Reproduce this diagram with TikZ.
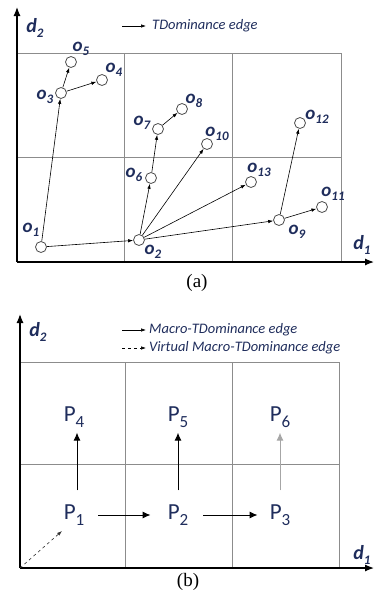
\documentclass[tikz,border=0pt]{standalone}
\usepackage{fontspec}
\setmainfont{Liberation Serif}
\newfontfamily\calib{Carlito}
\usepackage{tikz}
\usetikzlibrary{arrows.meta,positioning}
\definecolor{navy}{HTML}{1F2D5C}
\definecolor{gridgray}{HTML}{8C8C8C}
\newcommand{\objlbl}[1]{{\fontsize{19}{19}\selectfont\calib\bfseries\itshape o\raisebox{-0.5ex}{\fontsize{13}{13}\selectfont #1}}}
\newcommand{\ptlbl}[1]{{\fontsize{23}{23}\selectfont\calib P\raisebox{-0.55ex}{\fontsize{17}{17}\selectfont #1}}}
\newcommand{\dimlbl}[1]{{\fontsize{20}{20}\selectfont\calib\bfseries\itshape d\raisebox{-0.5ex}{\fontsize{13}{13}\selectfont #1}}}

\begin{document}
\begin{tikzpicture}[x=1pt, y=-1pt,
        obj/.style={circle, draw=black!70, fill=white, line width=0.8pt,
                    minimum size=11pt, inner sep=0pt},
        lbl/.style={text=navy, inner sep=0pt},
        legend/.style={text=navy, inner sep=0pt, anchor=west,
                       font=\calib\itshape\fontsize{14.5}{15}\selectfont},
        tdom/.style={-{Latex[length=5pt,width=3.5pt]}, line width=0.6pt},
        macro/.style={-{Latex[length=8pt,width=7pt]}, line width=1pt},
        cell/.style={draw=gridgray, line width=0.7pt},
        axis/.style={-{Latex[length=9pt,width=7pt]}, line width=1.2pt}
    ]
        \useasboundingbox (0,0) rectangle (374,592);

        % ---------- (a) objects ----------
        \draw[cell] (17,53) rectangle (341,262);
        \draw[cell] (124,53) -- (124,262) (232,53) -- (232,262) (17,157) -- (341,157);

        \coordinate (a0) at (17,262);
        \draw[axis] (a0) -- (17,7);
        \draw[axis] (a0) -- (374,262);
        \node[lbl] (ad2) at (35,28) {\dimlbl{2}};
        \node[lbl] (ad1) at (362,245) {\dimlbl{1}};

        % legend
        \coordinate (la1) at (122,26);
        \coordinate (la2) at (146,26);
        \draw[tdom] (la1) -- (la2);
        \node[legend] (lta) at (152,26) {TDominance edge};

        % points
        \node[obj] (o1) at (41,247) {};
        \node[obj] (o2) at (139,240) {};
        \node[obj] (o3) at (61,93) {};
        \node[obj] (o4) at (102,80) {};
        \node[obj] (o5) at (71,62) {};
        \node[obj] (o6) at (151,178) {};
        \node[obj] (o7) at (158,129) {};
        \node[obj] (o8) at (182,109) {};
        \node[obj] (o9) at (279,220) {};
        \node[obj] (o10) at (207,144) {};
        \node[obj] (o11) at (322,207) {};
        \node[obj] (o12) at (300,123) {};
        \node[obj] (o13) at (251,182) {};

        \node[lbl] (l1) at (31,230) {\objlbl{1}};
        \node[lbl] (l2) at (153,252) {\objlbl{2}};
        \node[lbl] (l3) at (45,97) {\objlbl{3}};
        \node[lbl] (l4) at (114,70) {\objlbl{4}};
        \node[lbl] (l5) at (81,49) {\objlbl{5}};
        \node[lbl] (l6) at (134,175) {\objlbl{6}};
        \node[lbl] (l7) at (142,123) {\objlbl{7}};
        \node[lbl] (l8) at (194,101) {\objlbl{8}};
        \node[lbl] (l9) at (297,232) {\objlbl{9}};
        \node[lbl] (l10) at (217,134) {\objlbl{10}};
        \node[lbl] (l11) at (333,194) {\objlbl{11}};
        \node[lbl] (l12) at (317,117) {\objlbl{12}};
        \node[lbl] (l13) at (259,170) {\objlbl{13}};

        % dominance edges
        \draw[tdom] (o1) -- (o2);
        \draw[tdom] (o1) -- (o3);
        \draw[tdom] (o3) -- (o5);
        \draw[tdom] (o3) -- (o4);
        \draw[tdom] (o2) -- (o6);
        \draw[tdom] (o6) -- (o7);
        \draw[tdom] (o7) -- (o8);
        \draw[tdom] (o2) -- (o10);
        \draw[tdom] (o2) -- (o13);
        \draw[tdom] (o2) -- (o9);
        \draw[tdom] (o9) -- (o11);
        \draw[tdom] (o9) -- (o12);

        \node[inner sep=0pt, font=\fontsize{19}{19}\selectfont] (capa) at (197,283) {(a)};

        % ---------- (b) partitions ----------
        \draw[cell] (20,362) rectangle (339,568);
        \draw[cell] (125,362) -- (125,568) (232,362) -- (232,568) (20,464) -- (339,464);

        \coordinate (b0) at (20,568);
        \draw[axis] (b0) -- (20,314);
        \draw[axis] (b0) -- (374,568);
        \node[lbl] (bd2) at (38,332) {\dimlbl{2}};
        \node[lbl] (bd1) at (362,555) {\dimlbl{1}};

        % legend
        \coordinate (lb1) at (122,330);
        \coordinate (lb2) at (146,330);
        \coordinate (lb3) at (122,348);
        \coordinate (lb4) at (146,348);
        \draw[tdom] (lb1) -- (lb2);
        \draw[tdom, dashed] (lb3) -- (lb4);
        \node[legend] (ltb1) at (149,330) {Macro-TDominance edge};
        \node[legend] (ltb2) at (149,348) {Virtual Macro-TDominance edge};

        % partition nodes
        \node[lbl] (P1) at (74,515) {\ptlbl{1}};
        \node[lbl] (P2) at (178,515) {\ptlbl{2}};
        \node[lbl] (P3) at (280,515) {\ptlbl{3}};
        \node[lbl] (P4) at (74,417) {\ptlbl{4}};
        \node[lbl] (P5) at (178,417) {\ptlbl{5}};
        \node[lbl] (P6) at (280,417) {\ptlbl{6}};

        \draw[macro, shorten <=14pt, shorten >=5pt] ([xshift=3pt]P1.north) -- ([xshift=3pt]P4.south);
        \draw[macro, shorten <=14pt, shorten >=5pt] (P2.north) -- (P5.south);
        \draw[macro, gray!70, shorten <=14pt, shorten >=5pt] (P3.north) -- (P6.south);
        \draw[macro, shorten <=14pt, shorten >=17pt] (P1) -- (P2);
        \draw[macro, shorten <=15pt, shorten >=12pt] (P2) -- (P3);

        \coordinate (v1) at (62,531);
        \draw[tdom, dashed, black!80] (b0) -- (v1);

        \node[inner sep=0pt, font=\fontsize{19}{19}\selectfont] (capb) at (188,582) {(b)};
    \end{tikzpicture}
\end{document}
